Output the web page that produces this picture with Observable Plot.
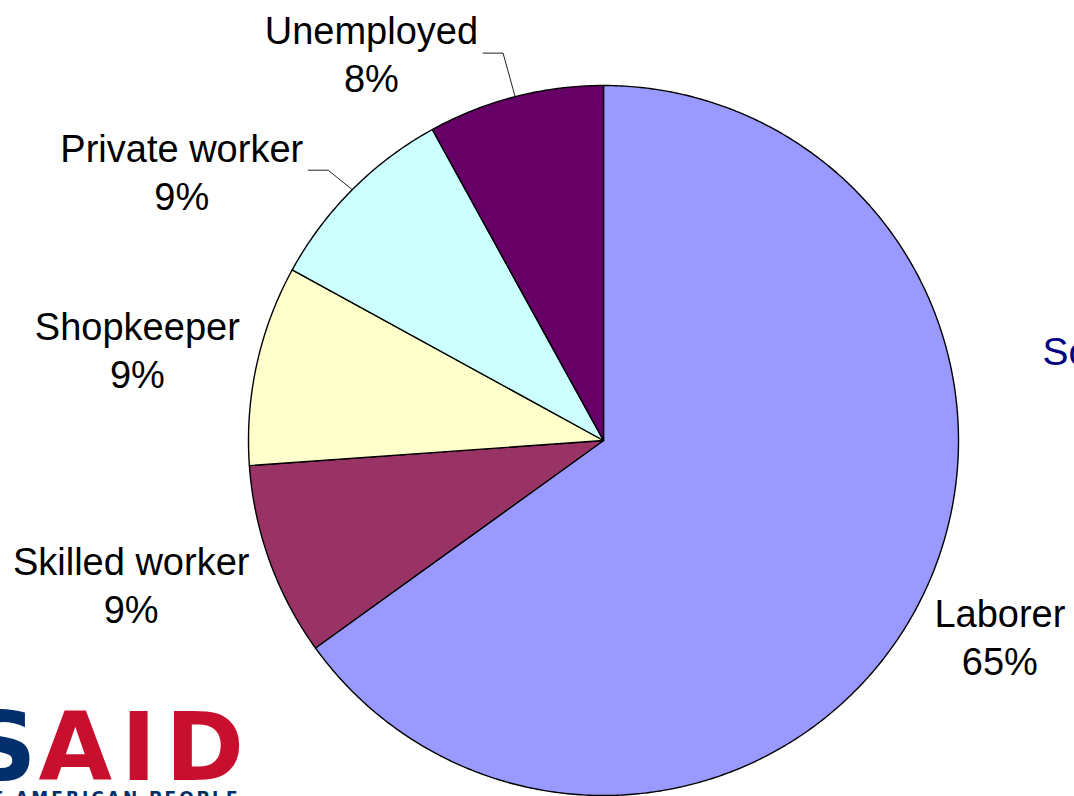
<!DOCTYPE html>
<html>
<head>
<meta charset="utf-8">
<script src="https://cdn.jsdelivr.net/npm/d3@7"></script>
<script src="https://cdn.jsdelivr.net/npm/@observablehq/plot@0.6"></script>
<style>
  html, body { margin: 0; padding: 0; background: #fff; overflow: hidden; }
</style>
</head>
<body>
<script>
// ---------- data ----------
const categories = ["Laborer", "Skilled worker", "Shopkeeper", "Private worker", "Unemployed"];
const shares = [65.0, 8.8, 9.1, 9.0, 8.0];
const percentLabels = ["65%", "9%", "9%", "9%", "8%"];
const sliceColors = ["#9999FF", "#993366", "#FFFFCC", "#CCFFFF", "#660066"];
const sideText = ["Sc"];
const logoNavyText = ["US"];
const logoRedText = ["AID"];
const logoTagline = ["FROM THE AMERICAN PEOPLE"];

// ---------- layout ----------
const W = 1074, H = 796;
const CX = 603, CY = 440, R = 355;
const FS = 38, LH = 48;
const FONT = "Liberation Sans, Arial, sans-serif";
// px nudges of label blocks from their default spot
const labelShift = {
  "Skilled worker": [-4, -3],
  "Shopkeeper": [5, 0],
  "Private worker": [-67, 32],
  "Unemployed": [-111, 27]
};
// labels drawn with a leader line
const withLeader = new Set(["Private worker", "Unemployed"]);

const toX = px => (px - CX) / R;
const toY = py => (CY - py) / R;

const total = d3.sum(shares);
let acc = 0;
const slices = categories.map((c, i) => {
  const a0 = acc / total * 2 * Math.PI;
  acc += shares[i];
  const a1 = acc / total * 2 * Math.PI;
  return {cat: c, i, a0, a1, mid: (a0 + a1) / 2};
});

const polyRows = slices.flatMap(s => {
  const pts = [{cat: s.cat, x: 0, y: 0}];
  const n = Math.max(2, Math.ceil((s.a1 - s.a0) / (Math.PI / 360)));
  for (let k = 0; k <= n; k++) {
    const a = s.a0 + (s.a1 - s.a0) * k / n;
    pts.push({cat: s.cat, x: Math.sin(a), y: Math.cos(a)});
  }
  pts.push({cat: s.cat, x: 0, y: 0});
  return pts;
});

const ctx = document.createElement("canvas").getContext("2d");
ctx.font = `${FS}px "Liberation Sans"`;

const labelRows = [];
const leaderRows = [];
slices.forEach(s => {
  const lines = [s.cat, percentLabels[s.i]];
  const w = d3.max(lines, t => ctx.measureText(t).width);
  const sn = Math.sin(s.mid), cs = Math.cos(s.mid);
  const k = 1.07;
  let cx = CX + sn * R * k + sn * w / 2;
  let cy = CY - cs * R * k - cs * LH;
  const sh = labelShift[s.cat];
  if (sh) { cx += sh[0]; cy += sh[1]; }
  if (withLeader.has(s.cat)) {
    const right = cx + w / 2;
    leaderRows.push({cat: s.cat, x: toX(right + 5), y: toY(cy)});
    leaderRows.push({cat: s.cat, x: toX(right + 25), y: toY(cy)});
    leaderRows.push({cat: s.cat, x: sn, y: cs});
  }
  labelRows.push({x: toX(cx), y: toY(cy), text: lines.join("\n")});
});

const chart = Plot.plot({
  width: W,
  height: H,
  margin: 0,
  x: {domain: [-1, 1], range: [CX - R, CX + R], axis: null},
  y: {domain: [-1, 1], range: [CY + R, CY - R], axis: null},
  color: {domain: categories, range: sliceColors},
  style: {fontFamily: FONT, background: "#fff"},
  marks: [
    Plot.line(polyRows, {x: "x", y: "y", z: "cat", fill: "cat", stroke: "#000", strokeWidth: 1.4, strokeLinejoin: "round", curve: "linear"}),
    Plot.line(leaderRows, {x: "x", y: "y", z: "cat", stroke: "#222", strokeWidth: 1}),
    Plot.text(labelRows, {x: "x", y: "y", text: "text", fontSize: FS, lineHeight: LH / FS, textAnchor: "middle", lineAnchor: "middle", fill: "#000", fontFamily: FONT}),
    Plot.text(sideText, {text: d => d, frameAnchor: "top-left", dx: 1042, dy: 337, lineAnchor: "top", textAnchor: "start", fontSize: 39, fill: "#000080", fontFamily: FONT}),
    Plot.text(logoNavyText, {text: d => d, frameAnchor: "top-left", dx: 36, dy: 712, lineAnchor: "top", textAnchor: "end", fontSize: 95, fontWeight: "bold", fill: "#002F6C", fontFamily: "DejaVu Sans"}),
    Plot.text(logoRedText, {text: d => d, frameAnchor: "top-left", dx: 38, dy: 712, lineAnchor: "top", textAnchor: "start", fontSize: 95, fontWeight: "bold", fill: "#C8102E", fontFamily: "DejaVu Sans"}),
    Plot.text(logoTagline, {text: d => d, frameAnchor: "top-left", dx: 240, dy: 791, lineAnchor: "top", textAnchor: "end", fontSize: 17, fontWeight: "bold", fill: "#002F6C", fontFamily: "DejaVu Sans"})
  ]
});
// letter-spacing for the logo words
chart.querySelectorAll("text").forEach(t => {
  if (t.textContent === logoRedText[0]) t.style.letterSpacing = "9px";
  if (t.textContent === logoTagline[0]) t.style.letterSpacing = "3px";
});
document.body.appendChild(chart);
</script>
</body>
</html>
